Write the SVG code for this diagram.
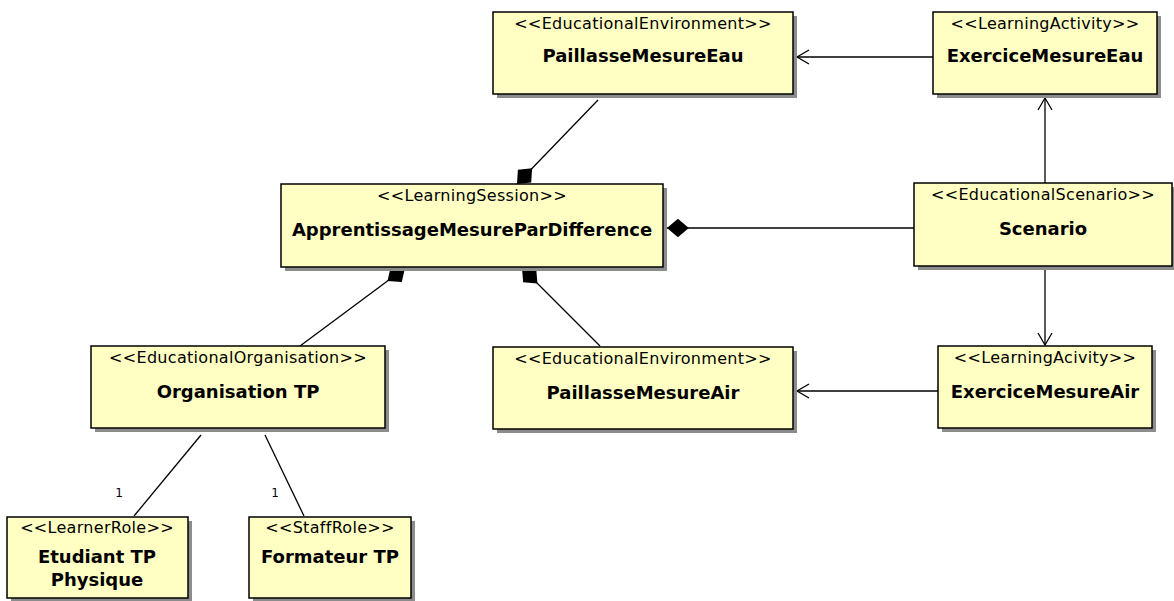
<svg xmlns="http://www.w3.org/2000/svg" width="1174" height="601" viewBox="0 0 1174 601">
<defs>
<style>
.box{fill:#ffffc4;stroke:#000;stroke-width:1.5}
.sh{fill:#8c8c8c}
.st{font-family:"DejaVu Sans",sans-serif;font-size:16px;letter-spacing:0.3px;fill:#000;text-anchor:middle}
.nm{font-family:"DejaVu Sans",sans-serif;font-size:18px;font-weight:bold;fill:#000;text-anchor:middle}
.ln{stroke:#000;stroke-width:1.3;fill:none}
.lb{font-family:"DejaVu Sans",sans-serif;font-size:12px;fill:#000;text-anchor:middle}
</style>
<marker id="dia" markerUnits="userSpaceOnUse" markerWidth="24" markerHeight="24" refX="20" refY="0" viewBox="0 -10 22 20" orient="auto" overflow="visible">
<path d="M0,0 L10,-8.5 L20,0 L10,8.5 Z" fill="#000"/>
</marker>
<marker id="arr" markerUnits="userSpaceOnUse" markerWidth="16" markerHeight="16" refX="0" refY="0" viewBox="-14 -8 16 16" orient="auto" overflow="visible">
<path d="M-12,-7 L0,0 L-12,7" fill="none" stroke="#000" stroke-width="1.3"/>
</marker>
</defs>
<rect width="1174" height="601" fill="#fff"/>
<g id="connectors">
<line class="ln" x1="598" y1="100" x2="517" y2="184" marker-end="url(#dia)"/>
<line class="ln" x1="933" y1="57" x2="797" y2="57" marker-end="url(#arr)"/>
<line class="ln" x1="1045" y1="183" x2="1045" y2="98" marker-end="url(#arr)"/>
<line class="ln" x1="914" y1="228" x2="667" y2="228" marker-end="url(#dia)"/>
<line class="ln" x1="1045" y1="266" x2="1045" y2="345" marker-end="url(#arr)"/>
<line class="ln" x1="938" y1="391" x2="797" y2="391" marker-end="url(#arr)"/>
<line class="ln" x1="300" y1="346" x2="405" y2="268" marker-end="url(#dia)"/>
<line class="ln" x1="600" y1="346" x2="522" y2="268" marker-end="url(#dia)"/>
<line class="ln" x1="201" y1="435" x2="134" y2="516"/>
<line class="ln" x1="265" y1="435" x2="304" y2="516"/>
<text class="lb" x="119" y="497">1</text>
<text class="lb" x="275" y="497">1</text>
</g>
<g id="PaillasseMesureEau">
<rect class="sh" x="497" y="16" width="300" height="82"/>
<rect class="box" x="493" y="12" width="300" height="82"/>
<text class="st" x="643" y="29">&lt;&lt;EducationalEnvironment&gt;&gt;</text>
<text class="nm" x="643" y="62">PaillasseMesureEau</text>
</g>
<g id="ExerciceMesureEau">
<rect class="sh" x="937" y="16" width="224" height="82"/>
<rect class="box" x="933" y="12" width="224" height="82"/>
<text class="st" x="1045" y="29">&lt;&lt;LearningActivity&gt;&gt;</text>
<text class="nm" x="1045" y="62">ExerciceMesureEau</text>
</g>
<g id="ApprentissageMesureParDifference">
<rect class="sh" x="285" y="188" width="382" height="83"/>
<rect class="box" x="281" y="184" width="382" height="83"/>
<text class="st" x="472" y="201">&lt;&lt;LearningSession&gt;&gt;</text>
<text class="nm" x="472" y="236">ApprentissageMesureParDifference</text>
</g>
<g id="Scenario">
<rect class="sh" x="918" y="187" width="259" height="83"/>
<rect class="box" x="914" y="183" width="258" height="83"/>
<text class="st" x="1043" y="200">&lt;&lt;EducationalScenario&gt;&gt;</text>
<text class="nm" x="1043" y="235">Scenario</text>
</g>
<g id="OrganisationTP">
<rect class="sh" x="95" y="350" width="294" height="82"/>
<rect class="box" x="91" y="346" width="294" height="82"/>
<text class="st" x="238" y="363">&lt;&lt;EducationalOrganisation&gt;&gt;</text>
<text class="nm" x="238" y="398">Organisation TP</text>
</g>
<g id="PaillasseMesureAir">
<rect class="sh" x="497" y="351" width="300" height="82"/>
<rect class="box" x="493" y="347" width="300" height="82"/>
<text class="st" x="643" y="364">&lt;&lt;EducationalEnvironment&gt;&gt;</text>
<text class="nm" x="643" y="399">PaillasseMesureAir</text>
</g>
<g id="ExerciceMesureAir">
<rect class="sh" x="942" y="350" width="214" height="82"/>
<rect class="box" x="938" y="346" width="214" height="82"/>
<text class="st" x="1045" y="363">&lt;&lt;LearningAcivity&gt;&gt;</text>
<text class="nm" x="1045" y="398">ExerciceMesureAir</text>
</g>
<g id="EtudiantTPPhysique">
<rect class="sh" x="11" y="521" width="181" height="81"/>
<rect class="box" x="7" y="517" width="181" height="81"/>
<text class="st" x="97" y="533">&lt;&lt;LearnerRole&gt;&gt;</text>
<text class="nm" x="97" y="563">Etudiant TP</text>
<text class="nm" x="97" y="586">Physique</text>
</g>
<g id="FormateurTP">
<rect class="sh" x="253" y="521" width="162" height="81"/>
<rect class="box" x="249" y="517" width="162" height="81"/>
<text class="st" x="330" y="533">&lt;&lt;StaffRole&gt;&gt;</text>
<text class="nm" x="330" y="563">Formateur TP</text>
</g>
</svg>
